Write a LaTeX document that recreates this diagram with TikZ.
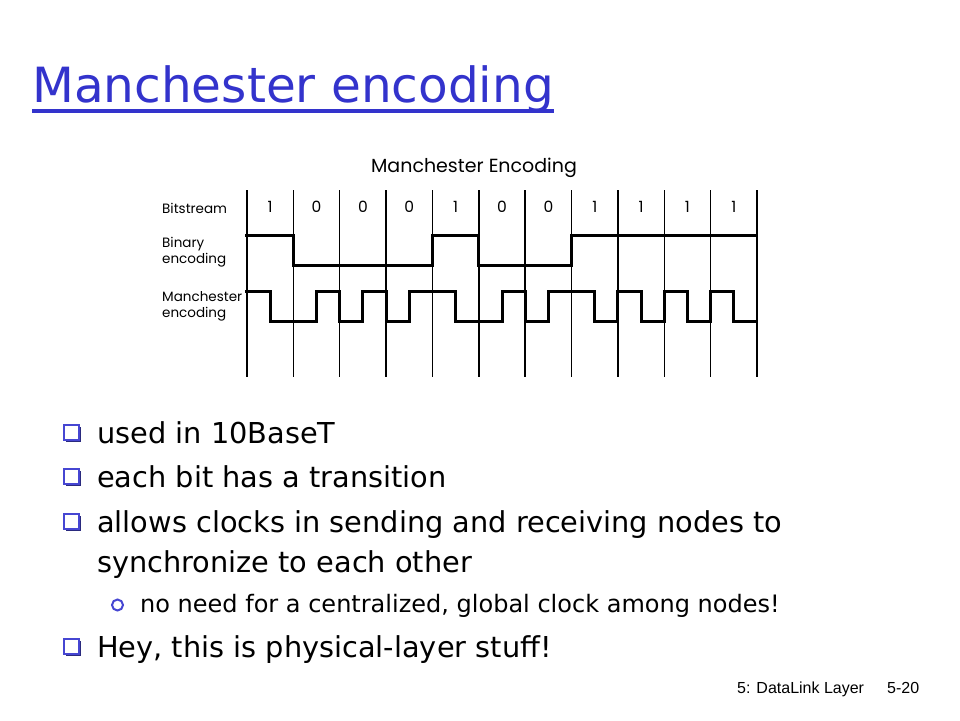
\documentclass[tikz,border=0pt]{standalone}
\usepackage{fontspec}
\usetikzlibrary{shadows}
\setmainfont{DejaVu Sans}
\newfontfamily\diagfont{Poppins}
\newfontfamily\footfont{Liberation Sans}
\definecolor{titleblue}{RGB}{51,51,204}
\definecolor{bulletblue}{RGB}{70,70,210}
\begin{document}
\begin{tikzpicture}[x=1pt,y=-1pt,
  gridline/.style={line width=1.4pt,black},
  wave/.style={line width=3pt,black,line join=miter},
  diaglabel/.style={font=\diagfont\fontsize{13.5}{16}\selectfont,anchor=west,align=left,inner sep=0},
  bitlabel/.style={font=\diagfont\fontsize{15.5}{18}\selectfont,inner sep=0},
  bodytext/.style={font=\fontsize{28.8}{34}\selectfont,anchor=base west,inner sep=0},
  subtext/.style={font=\fontsize{24}{28}\selectfont,anchor=base west,inner sep=0},
  sqbullet/.style={draw=bulletblue,fill=white,line width=1.8pt,minimum width=14.5pt,minimum height=15pt,inner sep=0,
     drop shadow={shadow xshift=2pt,shadow yshift=-2pt,fill=bulletblue!60!black,opacity=1}},
  circbullet/.style={draw=bulletblue,line width=2pt,circle,minimum size=11pt,inner sep=0},
]
\useasboundingbox (0,0) rectangle (960,720);
% title
\node[anchor=base west,text=titleblue,font=\fontsize{48.5}{56}\selectfont,inner sep=0] (title) at (32,102) {Manchester encoding};
\draw[titleblue,line width=3.5pt] ([yshift=-9pt]title.base west) -- ([yshift=-9pt]title.base east);
% diagram
\node[font=\diagfont\fontsize{19}{22}\selectfont,inner sep=0] (dtitle) at (474,168) {Manchester Encoding};
\node[diaglabel] (lbs) at (162,208) {Bitstream};
\node[diaglabel] (lbin) at (162,252) {Binary\\encoding};
\node[diaglabel] (lman) at (162,306) {Manchester\\encoding};
\foreach \i in {0,...,11}{
  \draw[gridline] ({247+\i*46.364},190) -- ({247+\i*46.364},377);
}
\foreach \b [count=\i from 0] in {1,0,0,0,1,0,0,1,1,1,1}{
  \node[bitlabel] (bit\i) at ({247+(\i+0.5)*46.364},207) {\b};
}
\draw[wave] (245,235) -- (293.4,235) -- (293.4,265) -- (432.5,265) -- (432.5,235) -- (478.8,235) -- (478.8,265) -- (571.5,265) -- (571.5,235) -- (757,235);
\draw[wave] (245,291) -- (270.2,291) -- (270.2,321) -- (316.5,321) -- (316.5,291) -- (339.7,291) -- (339.7,321) -- (362.9,321) -- (362.9,291) -- (386.1,291) -- (386.1,321) -- (409.3,321) -- (409.3,291) -- (455.6,291) -- (455.6,321) -- (502,321) -- (502,291) -- (525.2,291) -- (525.2,321) -- (548.4,321) -- (548.4,291) -- (594.7,291) -- (594.7,321) -- (617.9,321) -- (617.9,291) -- (641.1,291) -- (641.1,321) -- (664.3,321) -- (664.3,291) -- (687.5,291) -- (687.5,321) -- (710.6,321) -- (710.6,291) -- (733.8,291) -- (733.8,321) -- (757,321);
% bullets
\node[sqbullet] (b1) at (71.5,432.5) {};
\node[bodytext] (t1) at (97,443) {used in 10BaseT};
\node[sqbullet] (b2) at (71.5,476.5) {};
\node[bodytext] (t2) at (97,487) {each bit has a transition};
\node[sqbullet] (b3) at (71.5,521.5) {};
\node[bodytext] (t3) at (97,532) {allows clocks in sending and receiving nodes to};
\node[bodytext] (t3b) at (97,572) {synchronize to each other};
\node[circbullet] (b4) at (117.5,605) {};
\node[subtext] (t4) at (140,612) {no need for a centralized, global clock among nodes!};
\node[sqbullet] (b5) at (71.5,646.5) {};
\node[bodytext] (t5) at (97,657) {Hey, this is physical-layer stuff!};
% footer
\node[anchor=base west,font=\footfont\fontsize{16}{18}\selectfont,inner sep=0] (f1) at (737,693) {5: DataLink Layer};
\node[anchor=base west,font=\footfont\fontsize{16}{18}\selectfont,inner sep=0] (f2) at (887,693) {5-20};
\end{tikzpicture}
\end{document}
